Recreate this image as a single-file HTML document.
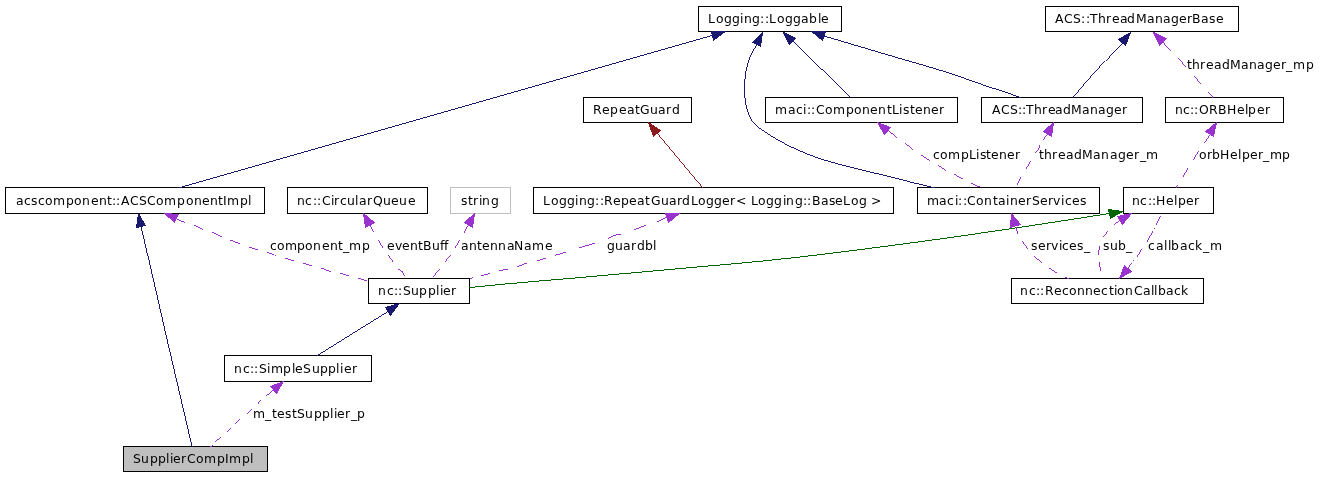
<!DOCTYPE html>
<html lang="en">
<head>
<meta charset="utf-8">
<title>SupplierCompImpl Collaboration Graph</title>
<style>
html,body{margin:0;padding:0;background:#fff;}
body{width:1321px;height:477px;overflow:hidden;}
#g{will-change:transform;width:1321px;height:477px;}
svg{display:block;}
svg text{font-family:"DejaVu Sans","Liberation Sans",sans-serif;font-size:12.4px;fill:#000;}
</style>
</head>
<body>
<div id="g">
<svg width="1321" height="477" viewBox="0 0 1321 477">
<rect x="0" y="0" width="1321" height="477" fill="#ffffff"/>
<rect x="698.5" y="6.5" width="143" height="25" fill="white" stroke="black" stroke-width="1"/>
<text x="708 716 724 732 740 744 752 760 765 769 777 785 793 801 809 818 821" y="23">Logging::Loggable</text>
<rect x="1045.5" y="6.5" width="193" height="25" fill="white" stroke="black" stroke-width="1"/>
<text x="1055 1064 1073 1081 1086 1090 1098 1106 1112 1120 1127 1136 1147 1155 1163 1171 1179 1187 1192 1201 1209 1216" y="23">ACS::ThreadManagerBase</text>
<rect x="583.5" y="97.5" width="108" height="25" fill="white" stroke="black" stroke-width="1"/>
<text x="593 602 610 619 627 635 640 650 658 666 672" y="114">RepeatGuard</text>
<rect x="765.5" y="97.5" width="192" height="25" fill="white" stroke="black" stroke-width="1"/>
<text x="775 788 796 803 807 811 816 825 833 846 854 862 870 878 887 892 899 903 910 915 923 931 939" y="114">maci::ComponentListener</text>
<rect x="981.5" y="97.5" width="161" height="25" fill="white" stroke="black" stroke-width="1"/>
<text x="992 1001 1010 1018 1022 1026 1034 1042 1048 1055 1063 1071 1082 1090 1098 1106 1114 1122" y="114">ACS::ThreadManager</text>
<rect x="1165.5" y="97.5" width="118" height="25" fill="white" stroke="black" stroke-width="1"/>
<text x="1175 1183 1190 1194 1199 1209 1218 1227 1237 1245 1248 1257 1265" y="114">nc::ORBHelper</text>
<rect x="5.5" y="187.5" width="259" height="26" fill="white" stroke="black" stroke-width="1"/>
<text x="16 24 31 38 45 53 66 74 82 91 99 107 112 116 121 130 139 147 156 164 177 186 194 202 210 218 223 227 240 248" y="205">acscomponent::ACSComponentImpl</text>
<rect x="287.5" y="187.5" width="140" height="26" fill="white" stroke="black" stroke-width="1"/>
<text x="297 305 313 317 322 331 334 340 347 355 359 367 373 383 391 399 408" y="205">nc::CircularQueue</text>
<rect x="450.5" y="187.5" width="60" height="26" fill="white" stroke="#bfbfbf" stroke-width="1"/>
<text x="461 468 473 479 482 491" y="205">string</text>
<rect x="533.5" y="187.5" width="360" height="26" fill="white" stroke="black" stroke-width="1"/>
<text x="543 551 559 567 575 579 587 595 600 604 613 621 629 637 645 651 661 669 677 682 691 698 706 714 722 730 736 747 751 758 766 774 783 786 795 803 807 812 821 829 835 843 851 859 867 871" y="205">Logging::RepeatGuardLogger&lt; Logging::BaseLog &gt;</text>
<rect x="917.5" y="187.5" width="182" height="26" fill="white" stroke="black" stroke-width="1"/>
<text x="927 939 947 955 958 963 967 976 984 993 998 1006 1010 1018 1026 1032 1040 1048 1053 1061 1065 1072 1080" y="205">maci::ContainerServices</text>
<rect x="1123.5" y="187.5" width="90" height="26" fill="white" stroke="black" stroke-width="1"/>
<text x="1132 1140 1148 1152 1156 1166 1174 1178 1186 1194" y="205">nc::Helper</text>
<rect x="368.5" y="278.5" width="101" height="25" fill="white" stroke="black" stroke-width="1"/>
<text x="378 387 394 398 403 411 419 428 436 440 443 451" y="295">nc::Supplier</text>
<rect x="1011.5" y="278.5" width="192" height="25" fill="white" stroke="black" stroke-width="1"/>
<text x="1020 1029 1036 1040 1045 1054 1062 1069 1077 1085 1093 1101 1109 1114 1117 1125 1134 1143 1151 1154 1158 1166 1174 1181" y="295">nc::ReconnectionCallback</text>
<rect x="224.5" y="355.5" width="147" height="26" fill="white" stroke="black" stroke-width="1"/>
<text x="234 243 250 254 259 267 271 283 292 295 303 312 320 328 336 340 344 352" y="373">nc::SimpleSupplier</text>
<rect x="123.5" y="446.5" width="144" height="25" fill="#bfbfbf" stroke="black" stroke-width="1"/>
<text x="133 141 150 158 166 170 173 181 187 196 204 217 225 229 242 250" y="463">SupplierCompImpl</text>
<g fill="none" stroke-width="0.999" shape-rendering="crispEdges">
<path d="M713.00,35.20 L179.20,187.70" stroke="#191970"/>
<path d="M756.50,44.50 C754.07,49.30 751.02,53.87 749.20,58.90 C747.74,62.92 746.76,67.18 746.00,71.40 C744.88,77.59 744.44,84.02 744.60,90.30 C744.76,96.62 745.11,103.23 747.00,109.20 C748.56,114.12 750.67,119.37 753.90,123.30 C757.13,127.23 762.09,129.85 766.40,132.80 C771.40,136.22 776.68,139.29 782.00,142.20 C792.11,147.74 802.79,152.40 813.60,156.40 C823.82,160.19 834.46,162.92 845.00,165.80 C855.43,168.65 866.00,170.98 876.50,173.60 C887.00,176.22 897.48,178.94 908.00,181.50 C916.82,183.65 925.67,185.70 934.50,187.80" stroke="#191970"/>
<path d="M792.50,41.50 L849.80,97.80" stroke="#191970"/>
<path d="M824.00,36.00 C849.33,43.50 874.66,51.03 900.00,58.50 C916.66,63.41 933.49,67.82 950.00,73.20 C963.44,77.58 976.55,82.95 990.00,87.30 C995.32,89.02 1000.71,90.50 1006.00,92.30 C1010.87,93.96 1015.67,95.83 1020.50,97.60" stroke="#191970"/>
<path d="M1122.00,42.50 C1110.60,55.00 1098.87,67.21 1087.80,80.00 C1082.80,85.77 1077.93,91.67 1073.00,97.50" stroke="#191970"/>
<path d="M1162.7,42.0 L1170.8,50.8 M1177.9,57.9 L1186.0,66.9 M1194.0,75.9 L1200.7,83.9 M1208.0,92.1 L1213.0,97.5" stroke="#9a32cd"/>
<path d="M658.20,133.50 L703.60,187.80" stroke="#8b1a1a"/>
<path d="M888.4,130.4 L897.0,137.7 M904.9,143.0 L913.1,149.8 M921.3,155.0 L929.7,160.7 M937.9,165.2 L946.0,170.6 M954.2,174.3 L962.8,178.8 M971.0,183.2 L979.5,187.0" stroke="#9a32cd"/>
<path d="M1047.7,133.9 L1043.3,139.7 M1039.8,145.2 L1039.2,148.2 L1035.4,152.6 M1030.6,161.1 L1026.1,168.9 M1020.7,177.2 L1017.0,184.6" stroke="#9a32cd"/>
<path d="M1209.3,134.5 L1204.2,142.7 M1198.8,150.9 L1193.3,159.7 M1187.9,168.3 L1183.1,176.7 M1177.9,184.9 L1176.4,187.6" stroke="#9a32cd"/>
<path d="M141.30,226.50 C149.53,262.67 157.67,298.86 166.00,335.00 C174.60,372.29 183.40,409.53 192.10,446.80" stroke="#191970"/>
<path d="M176.8,218.8 L185.2,222.8 M193.9,225.1 L203.2,229.8 M211.9,232.1 L222.1,237.0 M229.8,240.0 L240.0,243.7 M248.9,247.1 L258.1,250.0 M266.9,252.2 L276.1,255.8 M284.9,258.0 L294.2,261.0 M303.0,263.1 L312.2,265.9 M321.1,268.1 L331.1,271.8 M340.0,273.2 L349.1,276.0 M358.0,278.3 L367.2,280.8" stroke="#9a32cd"/>
<path d="M370.0,224.8 L373.8,232.3 M378.2,239.8 L382.9,247.7 M388.1,255.1 L392.9,261.6 M398.3,269.1 L402.0,271.4 L404.9,276.2" stroke="#9a32cd"/>
<path d="M468.4,224.8 L464.3,232.7 M459.7,240.2 L455.2,247.7 M450.4,255.1 L444.9,261.9 M439.8,269.1 L433.0,276.9" stroke="#9a32cd"/>
<path d="M668.3,216.3 L657.1,221.7 M646.0,225.2 L634.2,229.7 M620.8,234.3 L614.3,235.2 L608.2,238.5 M594.9,243.3 L579.2,247.8 M566.2,252.0 L555.2,255.4 M546.0,258.3 L537.1,260.7 M526.9,263.1 L517.2,266.7 M508.0,269.1 L499.1,270.7 M490.0,273.6 L480.9,275.9 M472.9,277.5 L470.2,278.8" stroke="#9a32cd"/>
<path d="M1109.50,213.50 C1086.33,217.10 1063.18,220.79 1040.00,224.30 C993.39,231.36 946.74,238.23 900.00,244.40 C853.40,250.56 806.77,256.63 760.00,261.30 C740.02,263.29 720.00,264.94 700.00,266.75 C658.34,270.52 616.67,274.34 575.00,278.00 C550.74,280.13 526.45,281.97 502.20,284.30 C491.23,285.35 480.27,286.50 469.30,287.60" stroke="#006400"/>
<path d="M1015.9,226.9 L1017.9,233.7 M1022.0,241.2 L1027.9,248.7 M1034.0,256.1 L1041.8,262.7 M1049.0,268.1 L1056.8,272.8 M1065.0,277.3 L1068.8,278.6" stroke="#9a32cd"/>
<path d="M1119.4,219.6 L1113.5,224.5 M1107.9,231.1 L1103.5,237.2 M1099.8,246.0 L1098.1,254.9 M1099.1,262.2 L1100.6,270.6" stroke="#9a32cd"/>
<path d="M1160.7,216.0 L1156.2,224.6 M1154.6,227.8 L1154.2,228.8 M1152.9,230.9 L1147.3,241.7 M1141.8,248.9 L1137.3,256.7 M1133.6,260.3 L1133.2,261.3 M1131.4,263.2 L1127.5,268.6" stroke="#9a32cd"/>
<path d="M388.00,311.50 L317.30,355.50" stroke="#191970"/>
<path d="M273.4,390.3 L266.1,395.9 M261.7,399.8 L258.0,403.5 M252.1,408.6 L247.0,413.5 M240.4,418.9 L235.2,423.8 M230.8,428.5 L227.2,432.1 M220.6,437.3 L215.4,441.7 M212.5,444.6 L209.5,446.8" stroke="#9a32cd"/>
<polygon points="725.5,31.5 711.5,31.5 713.5,40.5" fill="#191970"/><path d="M711.25,31.50 L725.75,31.50 M711.44,31.25 L713.56,40.75 M713.25,40.69 L725.75,31.31" stroke="#191970"/>
<polygon points="762.5,32.5 752.5,42.5 760.5,46.5" fill="#191970"/><path d="M752.25,42.75 L762.75,32.25 M752.25,42.38 L760.75,46.62 M762.54,32.25 L760.46,46.75" stroke="#191970"/>
<polygon points="783.5,32.5 795.5,38.5 789.5,44.5" fill="#191970"/><path d="M783.25,32.38 L795.75,38.62 M789.25,44.75 L795.75,38.25 M783.38,32.25 L789.62,44.75" stroke="#191970"/>
<polygon points="811.5,31.5 825.5,31.5 822.5,40.5" fill="#191970"/><path d="M811.25,31.50 L825.75,31.50 M825.58,31.25 L822.42,40.75 M811.25,31.30 L822.75,40.70" stroke="#191970"/>
<polygon points="1130.5,32.5 1118.5,39.5 1125.5,45.5" fill="#191970"/><path d="M1118.25,39.65 L1130.75,32.35 M1118.25,39.29 L1125.75,45.71 M1130.60,32.25 L1125.40,45.75" stroke="#191970"/>
<polygon points="1153.5,32.5 1166.5,38.5 1159.5,45.5" fill="#9a32cd"/><path d="M1153.25,32.38 L1166.75,38.62 M1159.25,45.75 L1166.75,38.25 M1153.38,32.25 L1159.62,45.75" stroke="#9a32cd"/>
<polygon points="648.5,122.5 660.5,130.5 653.5,136.5" fill="#8b1a1a"/><path d="M648.25,122.33 L660.75,130.67 M653.25,136.71 L660.75,130.29 M648.41,122.25 L653.59,136.75" stroke="#8b1a1a"/>
<polygon points="877.5,122.5 890.5,127.5 884.5,134.5" fill="#9a32cd"/><path d="M877.25,122.40 L890.75,127.60 M890.71,127.25 L884.29,134.75 M877.35,122.25 L884.65,134.75" stroke="#9a32cd"/>
<polygon points="1053.5,122.5 1043.5,131.5 1051.5,136.5" fill="#9a32cd"/><path d="M1043.25,131.72 L1053.75,122.28 M1043.25,131.34 L1051.75,136.66 M1053.54,122.25 L1051.46,136.75" stroke="#9a32cd"/>
<polygon points="1216.5,122.5 1205.5,131.5 1213.5,136.5" fill="#9a32cd"/><path d="M1205.25,131.70 L1216.75,122.30 M1205.25,131.34 L1213.75,136.66 M1216.55,122.25 L1213.45,136.75" stroke="#9a32cd"/>
<polygon points="138.5,213.5 145.5,225.5 136.5,227.5" fill="#191970"/><path d="M138.35,213.25 L145.65,225.75 M136.25,227.56 L145.75,225.44 M138.54,213.25 L136.46,227.75" stroke="#191970"/>
<polygon points="164.5,213.5 178.5,214.5 174.5,222.5" fill="#9a32cd"/><path d="M164.25,213.48 L178.75,214.52 M178.62,214.25 L174.38,222.75 M164.25,213.28 L174.75,222.72" stroke="#9a32cd"/>
<polygon points="363.5,213.5 374.5,222.5 365.5,227.5" fill="#9a32cd"/><path d="M363.25,213.30 L374.75,222.70 M365.25,227.64 L374.75,222.36 M363.46,213.25 L365.54,227.75" stroke="#9a32cd"/>
<polygon points="474.5,213.5 464.5,222.5 472.5,227.5" fill="#9a32cd"/><path d="M464.25,222.72 L474.75,213.28 M464.25,222.34 L472.75,227.66 M474.54,213.25 L472.46,227.75" stroke="#9a32cd"/>
<polygon points="679.5,213.5 665.5,213.5 668.5,222.5" fill="#9a32cd"/><path d="M665.25,213.50 L679.75,213.50 M665.42,213.25 L668.58,222.75 M668.25,222.70 L679.75,213.30" stroke="#9a32cd"/>
<polygon points="1122.5,211.5 1108.5,209.5 1110.5,218.5" fill="#006400"/><path d="M1108.25,209.46 L1122.75,211.54 M1108.44,209.25 L1110.56,218.75 M1110.25,218.65 L1122.75,211.35" stroke="#006400"/>
<polygon points="1011.5,213.5 1020.5,224.5 1010.5,227.5" fill="#9a32cd"/><path d="M1011.30,213.25 L1020.70,224.75 M1010.25,227.57 L1020.75,224.43 M1011.52,213.25 L1010.48,227.75" stroke="#9a32cd"/>
<polygon points="1131.5,213.5 1117.5,216.5 1122.5,224.5" fill="#9a32cd"/><path d="M1117.25,216.55 L1131.75,213.45 M1117.34,216.25 L1122.66,224.75 M1131.70,213.25 L1122.30,224.75" stroke="#9a32cd"/>
<polygon points="1119.5,278.5 1124.5,265.5 1131.5,271.5" fill="#9a32cd"/><path d="M1124.60,265.25 L1119.40,278.75 M1124.25,265.29 L1131.75,271.71 M1119.25,278.65 L1131.75,271.35" stroke="#9a32cd"/>
<polygon points="399.5,303.5 385.5,307.5 390.5,315.5" fill="#191970"/><path d="M385.25,307.57 L399.75,303.43 M385.34,307.25 L390.66,315.75 M399.69,303.25 L390.31,315.75" stroke="#191970"/>
<polygon points="283.5,381.5 270.5,386.5 276.5,393.5" fill="#9a32cd"/><path d="M270.25,386.60 L283.75,381.40 M270.29,386.25 L276.71,393.75 M283.65,381.25 L276.35,393.75" stroke="#9a32cd"/>
</g>
<text x="1187 1192 1200 1206 1214 1222 1230 1241 1249 1257 1265 1273 1281 1286 1293 1306" y="69">threadManager_mp</text>
<text x="933 940 948 961 969 976 980 986 991 999 1007 1015" y="159">compListener</text>
<text x="1039 1044 1052 1058 1066 1074 1082 1093 1101 1110 1118 1126 1134 1140 1146" y="159">threadManager_m</text>
<text x="1199 1207 1212 1220 1230 1238 1242 1250 1258 1263 1270 1282" y="159">orbHelper_mp</text>
<text x="270 277 285 297 305 313 322 330 338 343 349 362" y="250">component_mp</text>
<text x="387 395 402 410 418 423 432 440 444" y="250">eventBuff</text>
<text x="461 469 477 482 490 498 507 514 524 532 545" y="250">antennaName</text>
<text x="607 615 623 631 637 645 653" y="250">guardbl</text>
<text x="1031 1038 1046 1051 1059 1062 1069 1077 1084" y="250">services_</text>
<text x="1103 1110 1118 1126" y="250">sub_</text>
<text x="1148 1156 1164 1168 1171 1180 1188 1195 1203 1210" y="250">callback_m</text>
<text x="253 265 272 277 285 292 297 305 314 322 330 334 337 345 351 357" y="418">m_testSupplier_p</text>
</svg>
</div>
</body>
</html>
